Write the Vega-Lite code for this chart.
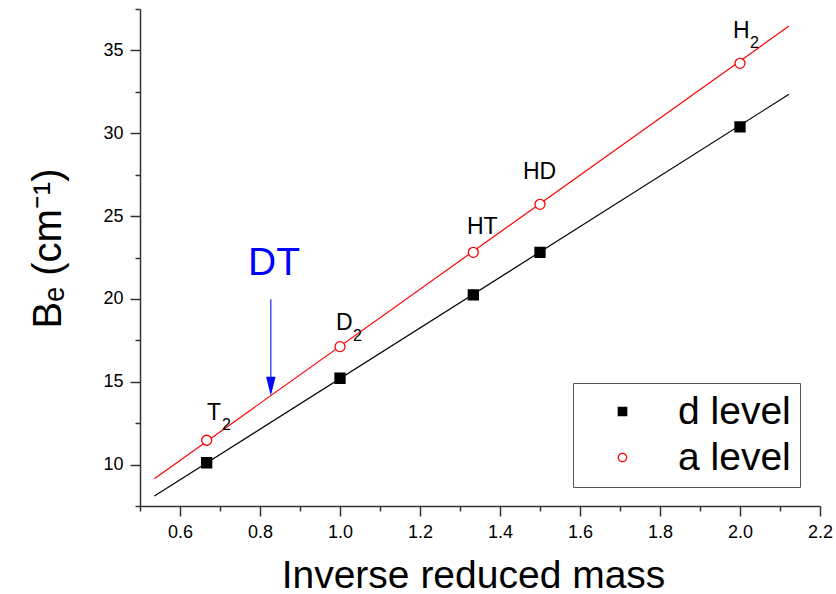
{
  "$schema": "https://vega.github.io/schema/vega-lite/v6.json",
  "width": 680,
  "height": 497,
  "autosize": "none",
  "padding": {"left": 140, "top": 9, "right": 16, "bottom": 88},
  "background": "white",
  "config": {"view": {"stroke": null}, "font": "Liberation Sans", "axis": {"grid": false}},
  "datasets": {
    "points": [
      {"series": "d level", "x": 0.6667, "y": 10.11},
      {"series": "d level", "x": 1.0, "y": 15.21},
      {"series": "d level", "x": 1.3333, "y": 20.24},
      {"series": "d level", "x": 1.5, "y": 22.81},
      {"series": "d level", "x": 2.0, "y": 30.38},
      {"series": "a level", "x": 0.6667, "y": 11.47},
      {"series": "a level", "x": 1.0, "y": 17.12},
      {"series": "a level", "x": 1.3333, "y": 22.81},
      {"series": "a level", "x": 1.5, "y": 25.71},
      {"series": "a level", "x": 2.0, "y": 34.22}
    ],
    "fits": [
      {"series": "a level", "x": 0.536, "y": 9.15},
      {"series": "a level", "x": 2.1225, "y": 36.47},
      {"series": "d level", "x": 0.536, "y": 8.10},
      {"series": "d level", "x": 2.1225, "y": 32.35}
    ],
    "labels": [
      {"text": "T", "x": 0.6675, "y": 12.69},
      {"text": "D", "x": 0.99, "y": 18.12},
      {"text": "HT", "x": 1.3175, "y": 23.92},
      {"text": "HD", "x": 1.4575, "y": 27.24},
      {"text": "H", "x": 1.9825, "y": 35.75}
    ],
    "subs": [
      {"text": "2", "x": 0.705, "y": 12.09},
      {"text": "2", "x": 1.0325, "y": 17.46},
      {"text": "2", "x": 2.025, "y": 35.15}
    ],
    "arrow": [{"x": 0.827, "y": 19.98, "y2": 14.9}],
    "arrowhead": [{"x": 0.827, "y": 14.16}],
    "dt": [{"x": 0.835, "y": 21.44, "text": "DT"}]
  },
  "layer": [
    {
      "data": {"name": "fits"},
      "transform": [{"filter": "datum.series === 'a level'"}],
      "mark": {"type": "line", "color": "#ff0000", "strokeWidth": 1.2},
      "encoding": {
        "x": {"field": "x", "type": "quantitative", "scale": {"domain": [0.5, 2.2], "nice": false, "zero": false},
          "axis": {"orient": "bottom", "values": [0.5, 0.7, 0.9, 1.1, 1.3, 1.5, 1.7, 1.9, 2.1], "tickSize": 5, "tickWidth": 1.5, "tickColor": "#333", "labels": false, "domain": false, "title": null, "grid": false}},
        "y": {"field": "y", "type": "quantitative", "scale": {"domain": [7.5, 37.5], "nice": false, "zero": false},
          "axis": {"orient": "left", "values": [7.5, 12.5, 17.5, 22.5, 27.5, 32.5, 37.5], "tickSize": 5, "tickWidth": 1.5, "tickColor": "#333", "labels": false, "domain": false, "title": null, "grid": false}}
      }
    },
    {
      "data": {"name": "fits"},
      "transform": [{"filter": "datum.series === 'd level'"}],
      "mark": {"type": "line", "color": "#000000", "strokeWidth": 1.2},
      "encoding": {
        "x": {"field": "x", "type": "quantitative", "scale": {"domain": [0.5, 2.2], "nice": false, "zero": false}, "axis": null},
        "y": {"field": "y", "type": "quantitative", "scale": {"domain": [7.5, 37.5], "nice": false, "zero": false}, "axis": null}
      }
    },
    {
      "data": {"name": "points"},
      "mark": {"type": "point", "opacity": 1, "strokeWidth": 1.3, "size": 100},
      "encoding": {
        "x": {"field": "x", "type": "quantitative", "scale": {"domain": [0.5, 2.2], "nice": false, "zero": false},
          "axis": {"orient": "bottom", "values": [0.6, 0.8, 1.0, 1.2, 1.4, 1.6, 1.8, 2.0, 2.2], "format": ".1f", "tickSize": 10, "tickWidth": 1.5, "tickColor": "#333", "domainColor": "#333", "domainWidth": 1.5, "labelFontSize": 18, "labelColor": "#000", "labelPadding": 7, "labelFlush": false, "labelOverlap": false, "grid": false,
            "title": "Inverse reduced mass", "titleFontSize": 39, "titleFontWeight": "normal", "titleColor": "#000", "titleX": 333, "titleY": 81, "titleBaseline": "alphabetic", "titleAlign": "center"}},
        "y": {"field": "y", "type": "quantitative", "scale": {"domain": [7.5, 37.5], "nice": false, "zero": false},
          "axis": {"orient": "left", "values": [10, 15, 20, 25, 30, 35], "tickSize": 10, "tickWidth": 1.5, "tickColor": "#333", "domainColor": "#333", "domainWidth": 1.5, "labelFontSize": 18, "labelColor": "#000", "labelPadding": 7, "labelFlush": false, "labelOverlap": false, "grid": false,
            "title": "Bₑ (cm⁻¹)", "titleFontSize": 40, "titleFontWeight": "normal", "titleColor": "#000", "titleAngle": -90, "titleX": -80, "titleY": 239, "titleBaseline": "alphabetic", "titleAlign": "center"}},
        "shape": {"field": "series", "type": "nominal", "scale": {"domain": ["d level", "a level"], "range": ["square", "circle"]},
          "legend": {"title": null, "orient": "none", "legendX": 433, "legendY": 374, "strokeColor": "#555", "padding": 9, "labelFontSize": 39, "labelColor": "#000", "symbolSize": 70, "symbolStrokeWidth": 1.3, "symbolOffset": 21, "labelOffset": 36, "rowPadding": 6, "labelLimit": 0}},
        "fill": {"field": "series", "type": "nominal", "scale": {"domain": ["d level", "a level"], "range": ["#000000", "#ffffff"]},
          "legend": {"title": null, "orient": "none", "legendX": 433, "legendY": 374, "strokeColor": "#555", "padding": 9, "labelFontSize": 39, "labelColor": "#000", "symbolSize": 70, "symbolStrokeWidth": 1.3, "symbolOffset": 21, "labelOffset": 36, "rowPadding": 6, "labelLimit": 0}},
        "stroke": {"field": "series", "type": "nominal", "scale": {"domain": ["d level", "a level"], "range": ["#000000", "#ff0000"]},
          "legend": {"title": null, "orient": "none", "legendX": 433, "legendY": 374, "strokeColor": "#555", "padding": 9, "labelFontSize": 39, "labelColor": "#000", "symbolSize": 70, "symbolStrokeWidth": 1.3, "symbolOffset": 21, "labelOffset": 36, "rowPadding": 6, "labelLimit": 0}}
      }
    },
    {
      "data": {"name": "arrow"},
      "mark": {"type": "rule", "color": "#4d4dff", "strokeWidth": 1.5},
      "encoding": {
        "x": {"field": "x", "type": "quantitative", "axis": null},
        "y": {"field": "y", "type": "quantitative", "axis": null},
        "y2": {"field": "y2"}
      }
    },
    {
      "data": {"name": "arrowhead"},
      "mark": {"type": "point", "shape": "M-0.25,-1L0.25,-1L0,0Z", "size": 1444, "filled": true, "color": "#0000ff", "opacity": 1, "strokeWidth": 0},
      "encoding": {
        "x": {"field": "x", "type": "quantitative", "axis": null},
        "y": {"field": "y", "type": "quantitative", "axis": null}
      }
    },
    {
      "data": {"name": "dt"},
      "mark": {"type": "text", "fontSize": 39, "color": "#0000ff", "align": "center", "baseline": "alphabetic"},
      "encoding": {
        "x": {"field": "x", "type": "quantitative", "axis": null},
        "y": {"field": "y", "type": "quantitative", "axis": null},
        "text": {"field": "text"}
      }
    },
    {
      "data": {"name": "labels"},
      "mark": {"type": "text", "fontSize": 23, "color": "#000000", "align": "left", "baseline": "alphabetic"},
      "encoding": {
        "x": {"field": "x", "type": "quantitative", "axis": null},
        "y": {"field": "y", "type": "quantitative", "axis": null},
        "text": {"field": "text"}
      }
    },
    {
      "data": {"name": "subs"},
      "mark": {"type": "text", "fontSize": 16, "color": "#000000", "align": "left", "baseline": "alphabetic"},
      "encoding": {
        "x": {"field": "x", "type": "quantitative", "axis": null},
        "y": {"field": "y", "type": "quantitative", "axis": null},
        "text": {"field": "text"}
      }
    }
  ],
  "resolve": {"axis": {"x": "independent", "y": "independent"}}
}
